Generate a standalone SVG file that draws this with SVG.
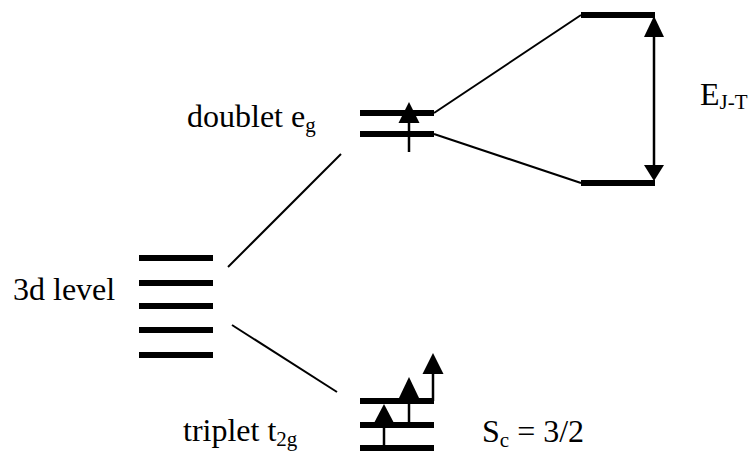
<svg xmlns="http://www.w3.org/2000/svg" width="752" height="452" viewBox="0 0 752 452">
<style>
.lvl{stroke:#000;stroke-width:6;fill:none}
.ln{stroke:#000;stroke-width:2;fill:none}
.ar{stroke:#000;stroke-width:2.5;fill:none}
.hd{fill:#000}
.t{font-family:'Liberation Serif','Times New Roman',serif;font-size:32px;fill:#000}
.sub{font-size:21px}
</style>
<rect width="752" height="452" fill="#fff"/>
<g id="level3d">
<line class="lvl" x1="139" y1="258" x2="213" y2="258"/>
<line class="lvl" x1="139" y1="283" x2="213" y2="283"/>
<line class="lvl" x1="139" y1="306" x2="213" y2="306"/>
<line class="lvl" x1="139" y1="330" x2="213" y2="330"/>
<line class="lvl" x1="139" y1="355" x2="213" y2="355"/>
<text class="t" font-family="Liberation Serif, serif" x="13" y="300">3d level</text>
</g>
<g id="doublet">
<line class="lvl" x1="360" y1="113" x2="434" y2="113"/>
<line class="lvl" x1="360" y1="134" x2="434" y2="134"/>
<line class="ar" x1="409" y1="152" x2="409" y2="120"/>
<polygon class="hd" points="409,102 398.5,123 419.5,123"/>
<text class="t" font-family="Liberation Serif, serif" x="187" y="127">doublet e<tspan class="sub" dy="5">g</tspan></text>
</g>
<g id="triplet">
<line class="lvl" x1="360" y1="401" x2="434" y2="401"/>
<line class="lvl" x1="360" y1="425" x2="434" y2="425"/>
<line class="lvl" x1="360" y1="448" x2="434" y2="448"/>
<line class="ar" x1="384" y1="448" x2="384" y2="420"/>
<polygon class="hd" points="384,404 373.5,424 394.5,424"/>
<line class="ar" x1="409" y1="425" x2="409" y2="396"/>
<polygon class="hd" points="409,377 398.5,399 419.5,399"/>
<line class="ar" x1="433" y1="401" x2="433" y2="371"/>
<polygon class="hd" points="433,353 422.5,374 443.5,374"/>
<text class="t" font-family="Liberation Serif, serif" x="183" y="441">triplet t<tspan class="sub" dy="5">2g</tspan></text>
<text class="t" font-family="Liberation Serif, serif" x="482" y="442">S<tspan class="sub" dy="5">c</tspan><tspan dy="-5"> = 3/2</tspan></text>
</g>
<g id="jt">
<line class="lvl" x1="581" y1="15" x2="655" y2="15"/>
<line class="lvl" x1="581" y1="183" x2="655" y2="183"/>
<line class="ar" x1="654" y1="33" x2="654" y2="168"/>
<polygon class="hd" points="654,16 644,37 664,37"/>
<polygon class="hd" points="654,181 644,165 664,165"/>
<text class="t" font-family="Liberation Serif, serif" x="700" y="105">E<tspan class="sub" dy="4">J-T</tspan></text>
</g>
<g id="connectors">
<line class="ln" x1="228" y1="267" x2="341" y2="154"/>
<line class="ln" x1="232" y1="325" x2="337" y2="392"/>
<line class="ln" x1="434" y1="113" x2="581" y2="15"/>
<line class="ln" x1="434" y1="134" x2="581" y2="183"/>
</g>
</svg>
